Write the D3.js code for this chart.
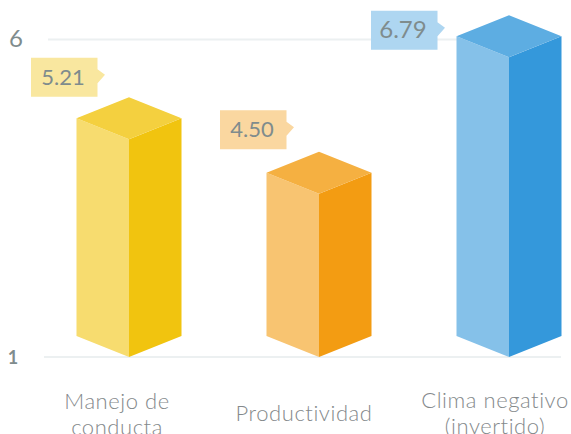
<!DOCTYPE html>
<html>
<head>
<meta charset="utf-8">
<script src="https://cdn.jsdelivr.net/npm/d3@7/dist/d3.min.js"></script>
<style>
html,body{margin:0;padding:0;background:#fff;overflow:hidden}
svg{display:block}
text{font-family:Lato,"Open Sans",sans-serif}
</style>
</head>
<body>
<svg id="c" width="571" height="434"></svg>
<script>
const categories = [["Manejo de","conducta"],["Productividad"],["Clima negativo","(invertido)"]];
const valueLabels = ["5.21","4.50","6.79"];
// level of each bar's front top edge as read against the 1..6 gridlines
const barLevels = [4.43,3.57,5.72];
const tickValues = [1,6];
const leftColors = ["#f7dc6f","#f8c471","#85c1e9"];
const rightColors = ["#f1c40f","#f39c12","#3498db"];
const topColors = ["#f4d03f","#f5b041","#5dade2"];
const labelColors = ["#f9e79f","#fad7a0","#aed6f1"];

const svg = d3.select("#c");
const y = d3.scaleLinear().domain([1,6]).range([357,39.5]);
const x = d3.scalePoint().domain(d3.range(categories.length)).range([129,509]);
const hw = 52.5, dy = 21;

const gridLeft = {1:44, 6:48};
svg.selectAll("line.grid").data(tickValues).join("line")
  .attr("x1",d=>gridLeft[d]).attr("x2",561)
  .attr("y1",d=>y(d)).attr("y2",d=>y(d))
  .attr("stroke","#ecf0f1").attr("stroke-width",2);

svg.selectAll("text.tick").data(tickValues).join("text")
  .attr("x",d=>d===6?16:13).attr("y",d=>d===6?47:363.5)
  .attr("text-anchor","middle")
  .attr("fill","#7f8c8d")
  .attr("font-size",d=>d===6?24:18)
  .attr("font-weight",d=>d===6?400:700)
  .text(d=>d);

const bars = svg.selectAll("g.bar").data(barLevels).join("g").attr("class","bar");
const pts = a => a.map(p=>p.join(",")).join(" ");
bars.append("polygon").attr("fill",(d,i)=>leftColors[i]).attr("points",(d,i)=>{
  const c=x(i),t=y(d),b=y(1);
  return pts([[c-hw,t-dy],[c,t],[c,b],[c-hw,b-dy]]);
});
bars.append("polygon").attr("fill",(d,i)=>rightColors[i]).attr("points",(d,i)=>{
  const c=x(i),t=y(d),b=y(1);
  return pts([[c,t],[c+hw,t-dy],[c+hw,b-dy],[c,b]]);
});
bars.append("polygon").attr("fill",(d,i)=>topColors[i]).attr("points",(d,i)=>{
  const c=x(i),t=y(d);
  return pts([[c,t],[c+hw,t-dy],[c,t-2*dy],[c-hw,t-dy]]);
});

// value tags: right edge and centre height relative to the bar's apex
const tagDx = [21,20,-19], tagDy = [-20,-22,15];
const tags = svg.selectAll("g.tag").data(barLevels).join("g")
  .attr("transform",(d,i)=>`translate(${x(i)-hw+tagDx[i]},${y(d)-dy*2+tagDy[i]})`);
tags.append("path").attr("fill",(d,i)=>labelColors[i])
  .attr("d","M-66.5,-19.5H0V-8L7.5,-2.5L0,6V19.5H-66.5Z");
tags.append("text").attr("x",-34.5).attr("y",7.5)
  .attr("text-anchor","middle").attr("font-size",(d,i)=>i===2?24:22)
  .attr("fill","#7f8c8d").text((d,i)=>valueLabels[i]);

// category labels
const labelX = [117,304,495], labelY = [409,421,408];
svg.selectAll("text.cat").data(categories).join("text")
  .attr("text-anchor","middle").attr("font-size",22).attr("font-weight",300)
  .attr("letter-spacing",0.55)
  .attr("fill","#84898b")
  .each(function(lines,i){
    d3.select(this).selectAll("tspan").data(lines).join("tspan")
      .attr("x",labelX[i]).attr("y",(l,j)=>labelY[i]+j*26).text(l=>l);
  });
</script>
</body>
</html>
